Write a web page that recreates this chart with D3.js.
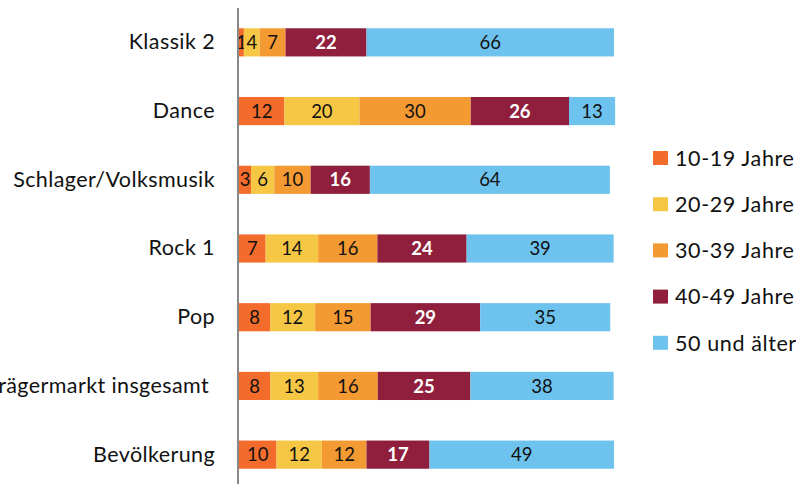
<!DOCTYPE html>
<html><head><meta charset="utf-8">
<script src="https://cdn.jsdelivr.net/npm/d3@7"></script>
<style>body{margin:0;background:#fff}svg{display:block}text{font-family:Lato,"Noto Sans",sans-serif}</style>
</head><body>
<svg id="c" width="796" height="484"></svg>
<script>
const categories = ["Klassik 2","Dance","Schlager/Volksmusik","Rock 1","Pop","Tonträgermarkt insgesamt ","Bevölkerung"];
const seriesNames = ["10-19 Jahre","20-29 Jahre","30-39 Jahre","40-49 Jahre","50 und älter"];
// segment values
const s1019 = [1.3,12.1,3.2,7.1,8.3,8.3,10.0];
const s2029 = [4.2,20.0,6.2,14.0,12.0,12.8,12.1];
const s3039 = [6.9,29.7,9.7,15.8,14.8,15.9,11.9];
const s4049 = [21.6,26.2,15.8,23.8,29.2,24.7,16.8];
const s50 = [66.0,12.3,64.0,39.2,34.7,38.2,49.2];
// printed data labels
const l1019 = [1,12,3,7,8,8,10];
const l2029 = [4,20,6,14,12,13,12];
const l3039 = [7,30,10,16,15,16,12];
const l4049 = [22,26,16,24,29,25,17];
const l50 = [66,13,64,39,35,38,49];
const colors = ["#F36C2B","#F6C744","#F49A33","#8F1F3C","#6EC3EE"];

const series = [s1019,s2029,s3039,s4049,s50];
const labels = [l1019,l2029,l3039,l4049,l50];
const svg = d3.select("#c");
const x = d3.scaleLinear().domain([0,100]).range([239,614]);
const y = d3.scaleBand().domain(categories).range([8,489]).paddingInner(0.59).paddingOuter(0.295);

const rows = categories.map((c,i)=>{const o={cat:c,idx:i}; seriesNames.forEach((s,j)=>o[s]=series[j][i]); return o;});
const stacked = d3.stack().keys(seriesNames)(rows);

stacked.forEach((layer,j)=>{
  const g = svg.append("g");
  g.selectAll("rect").data(layer).join("rect")
    .attr("x",d=>x(d[0])).attr("width",d=>x(d[1])-x(d[0]))
    .attr("y",d=>y(d.data.cat)).attr("height",y.bandwidth())
    .attr("fill",colors[j]);
  g.selectAll("text").data(layer).join("text")
    .attr("x",d=>(x(d[0])+x(d[1]))/2).attr("y",d=>y(d.data.cat)+y.bandwidth()/2)
    .attr("dy","0.36em").attr("text-anchor","middle")
    .attr("font-size",18.5).attr("fill", j===3?"#fff":"#111")
    .attr("font-weight", j===3?"bold":"normal")
    .text(d=>labels[j][d.data.idx]);
});

// axis
const axis = svg.append("g").attr("transform","translate(238,0)")
  .call(d3.axisLeft(y).tickSize(0).tickPadding(23));
axis.select(".domain").attr("stroke","#888").attr("stroke-width",2).attr("d","M0,8V484");
axis.selectAll("text").attr("font-size",21.5).attr("fill","#111")
  .style("font-family","Lato,'Noto Sans',sans-serif").style("letter-spacing","0.4px").style("white-space","pre");

// legend
const lg = svg.append("g");
seriesNames.forEach((s,i)=>{
  const yy = 158 + i*46.2;
  lg.append("rect").attr("x",653).attr("y",yy-7).attr("width",15).attr("height",14).attr("fill",colors[i]);
  lg.append("text").attr("x",675).attr("y",yy).attr("dy","0.36em").attr("font-size",21.5)
    .style("letter-spacing","0.6px").attr("fill","#111").text(s);
});
</script>
</body></html>
